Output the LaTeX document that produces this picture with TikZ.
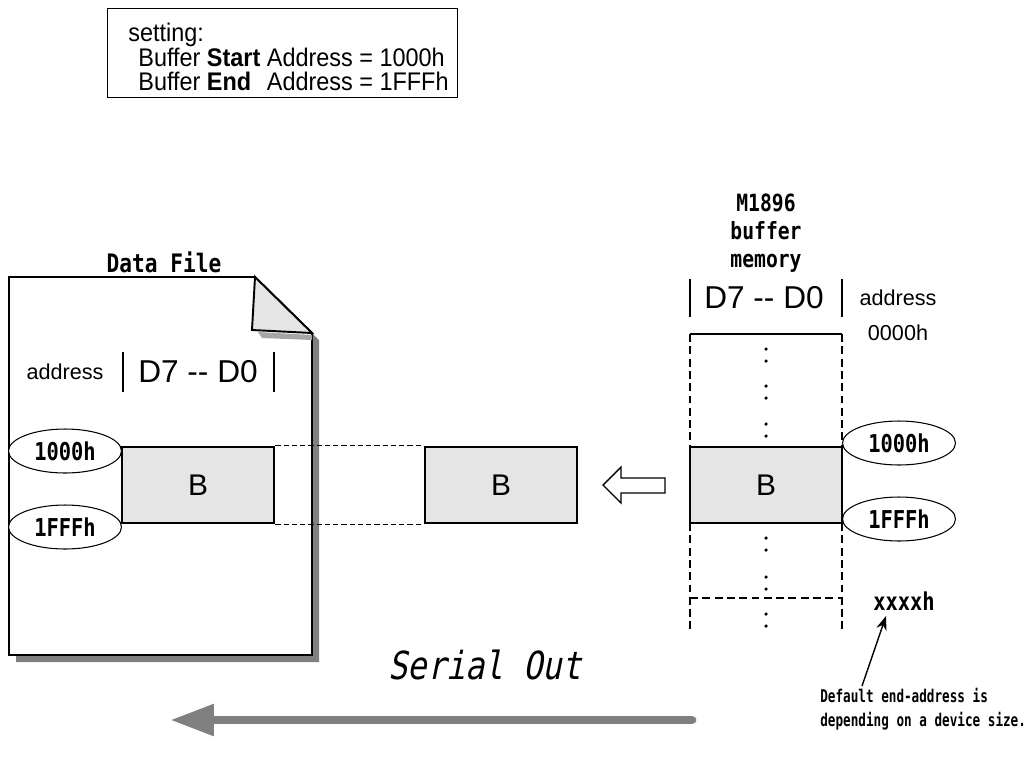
\documentclass[tikz,border=0pt]{standalone}
\usepackage{fontspec}
\setmainfont{Liberation Sans}
\newfontfamily\setfont[FakeStretch=0.92]{Liberation Sans}
\newfontfamily\labelfont[FakeStretch=0.83]{DejaVu Sans Mono}
\newfontfamily\notefont[FakeStretch=0.72]{DejaVu Sans Mono}
\newfontfamily\serialfont[FakeStretch=0.83, FakeSlant=0.2]{DejaVu Sans Mono}
\usetikzlibrary{arrows.meta,shapes.geometric}
\definecolor{cellgray}{gray}{0.9}

\begin{document}
\begin{tikzpicture}[x=0.02cm, y=-0.02cm,
  cell/.style={draw, line width=1.5pt, fill=cellgray, minimum width=3.04cm, minimum height=1.52cm, inner sep=0pt, font=\fontsize{17}{20}\selectfont},
  addr/.style={draw, ellipse, fill=white, line width=0.6pt, minimum width=2.26cm, minimum height=0.88cm, inner sep=0pt, font=\labelfont\bfseries\fontsize{14}{16}\selectfont},
  bits/.style={font=\fontsize{18}{20}\selectfont},
  small/.style={font=\fontsize{12.3}{15}\selectfont},
  lbl/.style={font=\labelfont\bfseries\fontsize{14}{16}\selectfont, align=center},
  mem/.style={line width=1.4pt, dash pattern=on 4.5pt off 2.5pt}]
\useasboundingbox (0,0) rectangle (1028,762);

\node[draw, line width=0.8pt, anchor=north west, minimum width=7cm, minimum height=1.78cm] (setting) at (107,8) {};
\node[anchor=west, align=left, inner sep=0pt, font=\setfont\fontsize{14.5}{14}\selectfont] (settext) at (128,57)
  {setting:\\\hspace*{5.7pt}Buffer \textbf{Start} Address = 1000h\\\hspace*{5.7pt}Buffer \rlap{\textbf{End}}\phantom{\textbf{Start}} Address = 1FFFh};

\fill[gray] (16,284) -- (262,284) -- (319,340) -- (319,662) -- (16,662) -- cycle;
\draw[line width=1.1pt, fill=white] (9,277) -- (255,277) -- (312,333) -- (312,655) -- (9,655) -- cycle;
\fill[gray!70] (258,332) -- (312,335) -- (312,340) -- (262,338) -- cycle;
\draw[line width=1.1pt, fill=cellgray] (255,277) -- (252,330) -- (312,333) -- cycle;

\node[lbl, font=\labelfont\bfseries\fontsize{14.5}{16}\selectfont] (ftitle) at (164,262) {Data File};
\node[small] (faddr) at (65,372) {address};
\node[bits] (fbits) at (198,372) {D7 -{}- D0};
\draw[line width=0.6pt] (123,352) -- (123,392) (274,352) -- (274,392);

\node[cell] (fileB) at (198,485) {B};
\node[cell] (midB) at (501,485) {B};
\node[cell] (memB) at (766,485) {B};
\node[addr] (fstart) at (65,451) {1000h};
\node[addr] (fend) at (65,527) {1FFFh};
\draw[line width=0.6pt, dash pattern=on 3pt off 1.7pt] (fileB.north east) -- (midB.north west) (fileB.south east) -- (midB.south west);

\draw[line width=0.8pt, fill=white] (603,485) -- (621,467) -- (621,478) -- (665,478) -- (665,493) -- (621,493) -- (621,503) -- cycle;

\node[lbl, font=\labelfont\bfseries\fontsize{13.5}{16}\selectfont] (mtitle) at (766,233) {M1896\\buffer\\memory};
\node[bits] (mbits) at (764,298) {D7 -{}- D0};
\draw[line width=0.6pt] (690,279) -- (690,317) (842,279) -- (842,317);
\node[small] (maddr) at (898,298) {address};
\node[small] (mzero) at (898,333) {0000h};

\draw[line width=1.4pt] (690,334) -- (842,334);
\draw[mem] (690,334) -- (690,447) (842,334) -- (842,447) (690,523) -- (690,633) (842,523) -- (842,633) (690,598) -- (842,598);
\foreach \y in {355,392,430,544,583,620}
  \fill (766,\y-6) circle (1pt) (766,\y+6) circle (1pt);
\node[addr] (mstart) at (899,443) {1000h};
\node[addr] (mend) at (899,519) {1FFFh};

\node[lbl] (endaddr) at (904,601) {xxxxh};
\node[font=\notefont\bfseries\fontsize{10}{13.7}\selectfont, align=left, anchor=north west, inner sep=0pt] (note) at (820,688)
  {Default end-address is\\depending on a device size.};
\coordinate (tail) at (862,686);
\coordinate (tip) at (886,616);
\draw[line width=0.8pt, -{Stealth[length=8pt,width=6pt]}] (tail) -- (tip);

\node[font=\serialfont\fontsize{22}{26}\selectfont] (serial) at (485,665) {Serial Out};
\coordinate (sstart) at (692,720);
\coordinate (send) at (170,720);
\draw[gray, line width=5pt, line cap=round, -{Triangle[length=25pt,width=17pt]}] (sstart) -- (send);
\end{tikzpicture}
\end{document}
